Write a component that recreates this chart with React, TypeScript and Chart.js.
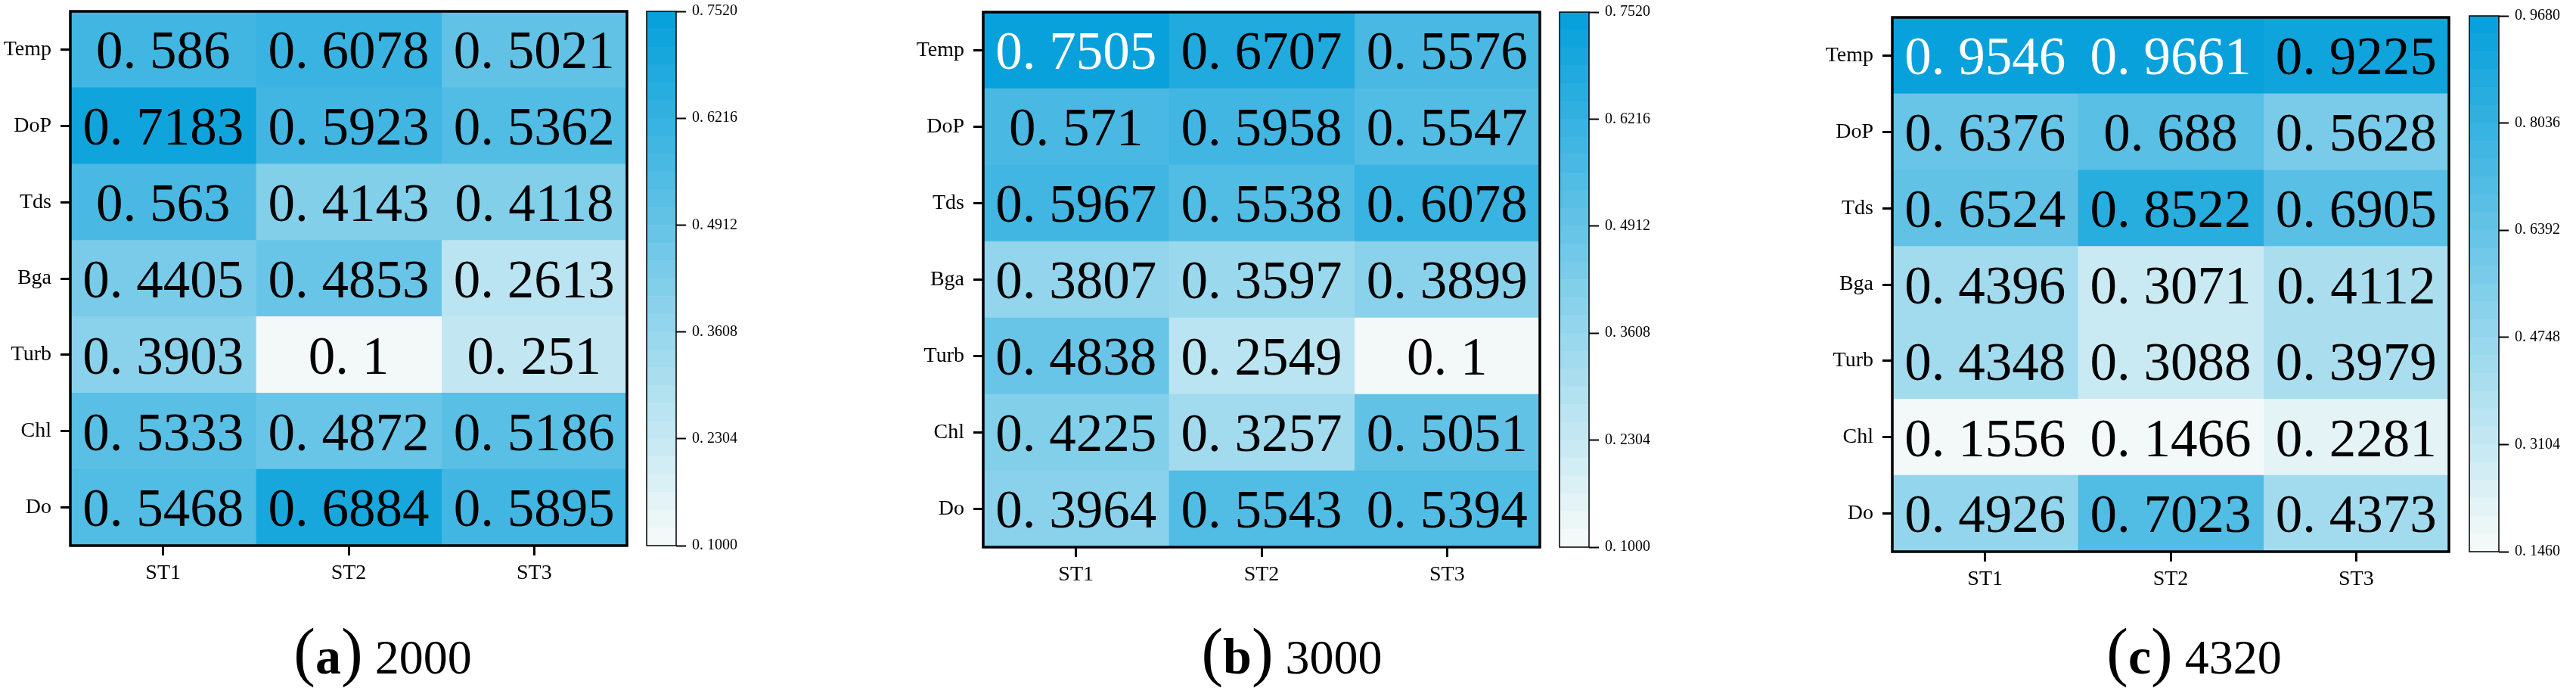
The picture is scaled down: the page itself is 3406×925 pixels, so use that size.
import React, { useEffect, useRef } from "react";
import { Chart, registerables } from "chart.js";

Chart.register(...registerables);

// ---------- data ----------
const rowLabels = ["Temp", "DoP", "Tds", "Bga", "Turb", "Chl", "Do"];
const colLabels = ["ST1", "ST2", "ST3"];

const valuesA = [
  [0.586, 0.6078, 0.5021],
  [0.7183, 0.5923, 0.5362],
  [0.563, 0.4143, 0.4118],
  [0.4405, 0.4853, 0.2613],
  [0.3903, 0.1, 0.251],
  [0.5333, 0.4872, 0.5186],
  [0.5468, 0.6884, 0.5895],
];
const valuesB = [
  [0.7505, 0.6707, 0.5576],
  [0.571, 0.5958, 0.5547],
  [0.5967, 0.5538, 0.6078],
  [0.3807, 0.3597, 0.3899],
  [0.4838, 0.2549, 0.1],
  [0.4225, 0.3257, 0.5051],
  [0.3964, 0.5543, 0.5394],
];
const valuesC = [
  [0.9546, 0.9661, 0.9225],
  [0.6376, 0.688, 0.5628],
  [0.6524, 0.8522, 0.6905],
  [0.4396, 0.3071, 0.4112],
  [0.4348, 0.3088, 0.3979],
  [0.1556, 0.1466, 0.2281],
  [0.4926, 0.7023, 0.4373],
];

const cbTicksA = [0.1, 0.2304, 0.3608, 0.4912, 0.6216, 0.752];
const cbTicksB = [0.1, 0.2304, 0.3608, 0.4912, 0.6216, 0.752];
const cbTicksC = [0.146, 0.3104, 0.4748, 0.6392, 0.8036, 0.968];

const captionLetters = ["a", "b", "c"];
const captionYears = ["2000", "3000", "4320"];

// ---------- styling ----------
const LOW = [243, 249, 248];
const HIGH = [8, 161, 219];
const NBANDS = 30;
const SERIF = "'Liberation Serif', 'DejaVu Serif', serif";

function bandColor(idx: number) {
  const f = idx / (NBANDS - 1);
  const c = LOW.map((l, i) => Math.round(l + (HIGH[i] - l) * f));
  return `rgb(${c[0]},${c[1]},${c[2]})`;
}
function bandIndex(v: number, min: number, max: number) {
  const t = (v - min) / (max - min);
  return Math.min(NBANDS - 1, Math.max(0, Math.floor(t * NBANDS)));
}
function fmtVal(v: number) {
  return String(v).replace(".", ". ");
}
function fmtTick(v: number) {
  return v.toFixed(4).replace(".", ". ");
}

const panels = [
  { values: valuesA, ticks: cbTicksA, heat: { l: 93, t: 15, r: 829, b: 721 }, cb: { l: 855, t: 15, r: 894, b: 721 }, cx: 506 },
  { values: valuesB, ticks: cbTicksB, heat: { l: 1300, t: 16, r: 2036, b: 723 }, cb: { l: 2062, t: 16, r: 2101, b: 723 }, cx: 1708 },
  { values: valuesC, ticks: cbTicksC, heat: { l: 2502, t: 23, r: 3238, b: 729 }, cb: { l: 3265, t: 21, r: 3304, b: 729 }, cx: 2901 },
];

function Panel({ values, ticks, heat, cb, letter, year, cx }: any) {
  const heatRef = useRef<HTMLCanvasElement>(null);
  const cbRef = useRef<HTMLCanvasElement>(null);

  const CL = heat.l - 93;
  const CW = heat.r + 8 - CL;
  const CH = 800;
  const BL = cb.l - 6;
  const BW = 150;
  const BH = 800;

  useEffect(() => {
    const min = ticks[0];
    const max = ticks[ticks.length - 1];

    const framePlugin = (lw: number) => ({
      id: "frame",
      afterDraw(chart: any) {
        const a = chart.chartArea;
        const ctx = chart.ctx;
        ctx.save();
        ctx.lineWidth = lw;
        ctx.strokeStyle = "#000";
        ctx.strokeRect(a.left, a.top, a.right - a.left, a.bottom - a.top);
        ctx.restore();
      },
    });

    const valuePlugin = {
      id: "values",
      afterDatasetsDraw(chart: any) {
        const ctx = chart.ctx;
        const size = 71;
        ctx.save();
        ctx.font = `${size}px ${SERIF}`;
        ctx.textAlign = "center";
        ctx.textBaseline = "alphabetic";
        chart.data.datasets.forEach((_: any, ci: number) => {
          const meta = chart.getDatasetMeta(ci);
          meta.data.forEach((el: any, ri: number) => {
            const v = values[ri][ci];
            const t = (v - min) / (max - min);
            const cxp = (el.x + el.base) / 2;
            const cyp = el.y;
            ctx.fillStyle = t > 0.96 ? "#ffffff" : "#000000";
            ctx.fillText(fmtVal(v), cxp, cyp + 0.35 * size);
          });
        });
        ctx.restore();
      },
    };

    const heatChart = new Chart(heatRef.current as HTMLCanvasElement, {
      type: "bar",
      data: {
        labels: rowLabels,
        datasets: colLabels.map((c, ci) => ({
          label: c,
          data: rowLabels.map(() => [ci, ci + 1]),
          backgroundColor: values.map((row: number[]) => bandColor(bandIndex(row[ci], min, max))),
          borderWidth: 0,
          grouped: false,
          barPercentage: 1,
          categoryPercentage: 1,
        })),
      } as any,
      options: {
        indexAxis: "y",
        responsive: false,
        animation: false,
        devicePixelRatio: 1,
        events: [],
        layout: { padding: { left: 0, top: heat.t, right: CW - (heat.r - CL), bottom: 0 } },
        plugins: { legend: { display: false }, tooltip: { enabled: false } },
        scales: {
          x: {
            type: "linear",
            position: "bottom",
            min: 0,
            max: 3,
            afterBuildTicks: (s: any) => {
              s.ticks = colLabels.map((_, i) => ({ value: i + 0.5 }));
            },
            afterFit: (s: any) => {
              s.height = CH - heat.b;
              s.paddingLeft = 0;
              s.paddingRight = 0;
            },
            ticks: {
              callback: (v: any) => colLabels[Math.floor(Number(v))],
              font: { family: SERIF, size: 28 },
              color: "#000",
              padding: 7,
              maxRotation: 0,
              autoSkip: false,
            },
            grid: { drawOnChartArea: false, drawTicks: true, tickLength: 13, tickWidth: 3, tickColor: "#000", color: "#000" },
            border: { display: false },
          },
          y: {
            type: "category",
            position: "left",
            offset: true,
            afterFit: (s: any) => {
              s.width = heat.l - CL;
              s.paddingTop = 0;
              s.paddingBottom = 0;
            },
            ticks: { font: { family: SERIF, size: 28 }, color: "#000", padding: 12, autoSkip: false },
            grid: { offset: false, drawOnChartArea: false, drawTicks: true, tickLength: 13, tickWidth: 3, tickColor: "#000", color: "#000" },
            border: { display: false },
          },
        },
      } as any,
      plugins: [valuePlugin, framePlugin(3.5)],
    });

    const step = (max - min) / NBANDS;
    const bands = Array.from({ length: NBANDS }, (_, k) => k);
    const cbChart = new Chart(cbRef.current as HTMLCanvasElement, {
      type: "bar",
      data: {
        labels: [""],
        datasets: bands.map((k) => ({
          data: [[min + k * step, min + (k + 1) * step]],
          backgroundColor: bandColor(k),
          borderWidth: 0,
          grouped: false,
          barPercentage: 1,
          categoryPercentage: 1,
        })),
      } as any,
      options: {
        responsive: false,
        animation: false,
        devicePixelRatio: 1,
        events: [],
        layout: { padding: { left: cb.l - BL, top: cb.t, right: 0, bottom: BH - cb.b } },
        plugins: { legend: { display: false }, tooltip: { enabled: false } },
        scales: {
          x: { display: false },
          y: {
            type: "linear",
            position: "right",
            min,
            max,
            afterBuildTicks: (s: any) => {
              s.ticks = ticks.map((v: number) => ({ value: v }));
            },
            afterFit: (s: any) => {
              s.width = BW - (cb.r - BL);
              s.paddingTop = 0;
              s.paddingBottom = 0;
            },
            ticks: {
              callback: (v: any) => fmtTick(Number(v)),
              font: { family: SERIF, size: 20 },
              color: "#000",
              padding: 8,
              autoSkip: false,
            },
            grid: { drawOnChartArea: false, drawTicks: true, tickLength: 13, tickWidth: 2, tickColor: "#000", color: "#000" },
            border: { display: false },
          },
        },
      } as any,
      plugins: [framePlugin(1.5)],
    });

    return () => {
      heatChart.destroy();
      cbChart.destroy();
    };
  }, []);

  return (
    <>
      <canvas
        ref={heatRef}
        width={CW}
        height={CH}
        style={{ position: "absolute", left: CL, top: 0, width: CW, height: CH }}
      />
      <canvas
        ref={cbRef}
        width={BW}
        height={BH}
        style={{ position: "absolute", left: BL, top: 0, width: BW, height: BH }}
      />
      <div
        style={{
          position: "absolute",
          left: cx - 300,
          width: 600,
          top: 861,
          height: 0,
          lineHeight: 0,
          textAlign: "center",
          fontFamily: SERIF,
          fontSize: 64,
          whiteSpace: "nowrap",
          color: "#000",
        }}
      >
        <span style={{ fontSize: 86 }}>(</span>
        <span style={{ fontSize: 68, fontWeight: "bold" }}>{letter}</span>
        <span style={{ fontSize: 86 }}>)</span>
        <span> {year}</span>
      </div>
    </>
  );
}

export default function App() {
  return (
    <div
      style={{
        position: "fixed",
        left: 0,
        top: 0,
        width: 3406,
        height: 925,
        background: "#ffffff",
        overflow: "hidden",
      }}
    >
      {panels.map((p, i) => (
        <Panel
          key={i}
          values={p.values}
          ticks={p.ticks}
          heat={p.heat}
          cb={p.cb}
          cx={p.cx}
          letter={captionLetters[i]}
          year={captionYears[i]}
        />
      ))}
    </div>
  );
}
